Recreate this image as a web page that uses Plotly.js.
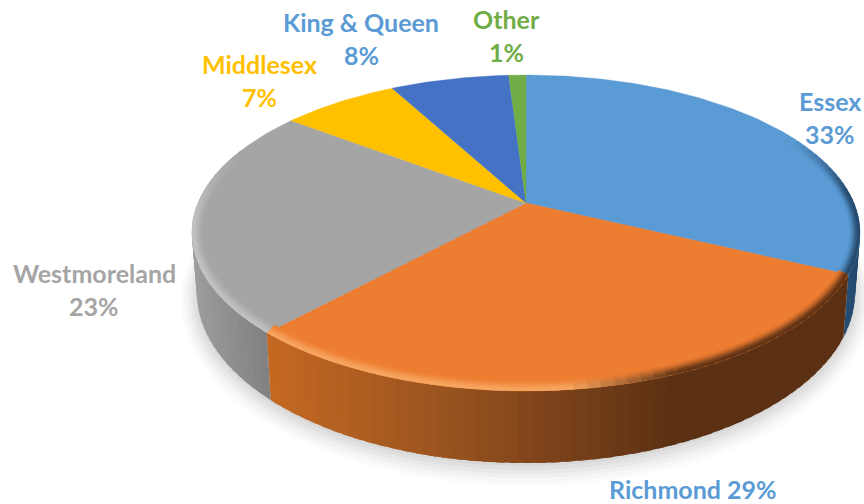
<!DOCTYPE html>
<html><head><meta charset="utf-8">
<script src="https://cdn.plot.ly/plotly-3.0.1.min.js"></script>
<style>html,body{margin:0;padding:0;background:#fff}#c{width:864px;height:504px}</style>
</head><body><div id="c"></div>
<script>
const categories = ["Essex","Richmond","Westmoreland","Middlesex","King & Queen","Other"];
const shareValues = [32.1,29.8,23.4,6.8,6.9,1.0];
const shareLabels = ["33%","29%","23%","7%","8%","1%"];
const sliceColors = ["#5b9bd5","#ed7d31","#a5a5a5","#ffc000","#4472c4","#70ad47"];
const labelColors = ["#5b9bd5","#5b9bd5","#a5a5a5","#ffc000","#5b9bd5","#70ad47"];

// projection of the pie disc
const CX=526, CY=203, K=0.19, R=328, S=152.3;
const BCY=260, BSX=0.985, BSY=1.08;
const rad=d=>d*Math.PI/180;
function rawP(t){const v=-Math.cos(rad(t)),d=1-K*v;return [R*Math.sin(rad(t))/d,S*v/d];}
function topP(t,w){const p=rawP(t);w=w||0;return [CX+p[0]-w*Math.sin(rad(t)),CY+p[1]+w*Math.cos(rad(t))];}
function botP(t,grow,dy){const p=rawP(t);grow=grow||0;dy=dy||0;
  return [CX+BSX*p[0]+grow*Math.sin(rad(t)),BCY+BSY*p[1]-grow*Math.cos(rad(t))+dy];}
const hex=c=>[1,3,5].map(i=>parseInt(c.substr(i,2),16));
function mix(a,b,f){const A=hex(a),B=hex(b);f=Math.max(0,Math.min(1,f));
  return "rgb("+A.map((x,i)=>Math.round(x+(B[i]-x)*f)).join(",")+")";}
const clamp=x=>Math.max(0,Math.min(1,x));
const toHex=c=>"#"+c.match(/\d+/g).map(n=>(+n).toString(16).padStart(2,"0")).join("");

const traces=[];
function poly(pts,color,lw){
  traces.push({type:"scatter",mode:"lines",x:pts.map(p=>p[0]),y:pts.map(p=>p[1]),fill:"toself",
    fillcolor:color,line:{color:color,width:lw===undefined?0:lw,shape:"linear"},hoverinfo:"skip",showlegend:false});
}
// slice angle limits
const total=shareValues.reduce((a,b)=>a+b,0);
const bounds=[0];shareValues.forEach(v=>bounds.push(bounds[bounds.length-1]+v/total*360));
function range(a,b,step){const n=Math.max(1,Math.ceil((b-a)/step)),o=[];for(let i=0;i<=n;i++)o.push(a+(b-a)*i/n);return o;}

// soft shadow
const shadowSteps=[[16,7,"#fbfbfb"],[13,6,"#f6f6f6"],[10,5,"#f0f0f0"],[7,4,"#e8e8e8"],[4,3,"#e0e0e0"],[1,2,"#d8d8d8"]];
shadowSteps.forEach(s=>poly(range(60,300,3).map(t=>botP(t,s[0],s[1])),s[2],0));

// side wall: strips overlap the next one so no seam shows
function wallColor(i,x){
  if(i===0) return mix("#2a5478","#21466a",clamp((x-840)/20));
  if(i===1){
    if(x<440) return mix("#c46821","#9b5420",(x-272)/168);
    return mix("#9b5420","#5c3013",(x-440)/230);
  }
  return mix("#9c9c9c","#7f7f7f",(x-197)/75);
}
[[0,70,bounds[1]],[2,bounds[2],292],[1,bounds[1],bounds[2]]].forEach(s=>{
  const a=range(s[1],s[2],2);
  for(let j=0;j<a.length-1;j++){
    const e=Math.min(s[2],a[j+1]+1.2);
    const pts=[];
    range(a[j],e,0.5).forEach(t=>pts.push(topP(t)));
    range(a[j],e,0.5).reverse().forEach(t=>pts.push(botP(t)));
    pts.push(pts[0]);
    const mid=(a[j]+a[j+1])/2,c=(topP(mid)[0]+botP(mid)[0])/2;
    poly(pts,wallColor(s[0],c));
  }
});
// top face
categories.forEach((c,i)=>{
  const a=range(bounds[i],bounds[i+1],0.75),pts=[[CX,CY]];
  a.forEach(t=>pts.push(topP(t)));pts.push([CX,CY]);
  poly(pts,sliceColors[i],0.4);
});
// bevel along the rim
const ringW=[0,2,4,6,8,10], ringF=[0.95,0.8,0.55,0.3,0.1];
function rim(i,t){
  const x=topP(t)[0];
  if(i===0) return ["#22476a",clamp((t-62)/24)];
  if(i===1){
    const f=clamp((x-570)/110);
    return [toHex(mix("#f7a660","#5c3013",f)),1];
  }
  return ["#c2c2c2",clamp((290-t)/25)];
}
[[0,58,bounds[1]],[1,bounds[1],bounds[2]],[2,bounds[2],290]].forEach(s=>{
  const a=range(s[1],s[2],2);
  for(let j=0;j<a.length-1;j++){
    const mid=(a[j]+a[j+1])/2,rc=rim(s[0],mid);
    const e=Math.min(s[2],a[j+1]+1.2);
    const ts=range(a[j],e,0.5);
    for(let r=ringF.length-1;r>=0;r--){
      const pts=[];
      ts.forEach(t=>pts.push(topP(t,ringW[r])));
      ts.slice().reverse().forEach(t=>pts.push(topP(t,ringW[r+1]+0.8)));
      pts.push(pts[0]);
      poly(pts,mix(sliceColors[s[0]],rc[0],ringF[r]*rc[1]),0);
    }
  }
});

// label placement
const namePos=[[830,101],[0,0],[94,273],[259,64],[361,22],[506,19]];
const annos=[];
const font=(c)=>({family:"Lato, Carlito, sans-serif",size:25,color:c,weight:700});
function label(txt,x,y,c){annos.push({text:"<b>"+txt+"</b>",x:x,y:y,xref:"x",yref:"y",showarrow:false,font:font(c),xanchor:"center",yanchor:"middle"});}
categories.forEach((c,i)=>{
  const pct=shareLabels[i];
  if(i===1){label(c+" "+pct,693,489,labelColors[i]);return;}
  label(c.replace("&","&amp;"),namePos[i][0],namePos[i][1],labelColors[i]);
  label(pct,namePos[i][0],namePos[i][1]+33,labelColors[i]);
});
const hidden={visible:false,fixedrange:true};
Plotly.newPlot("c",traces,{
  width:864,height:504,margin:{l:0,r:0,t:0,b:0},paper_bgcolor:"#fff",plot_bgcolor:"#fff",showlegend:false,
  xaxis:Object.assign({range:[0,864]},hidden),yaxis:Object.assign({range:[504,0]},hidden),annotations:annos
},{displayModeBar:false,staticPlot:true});
</script></body></html>
